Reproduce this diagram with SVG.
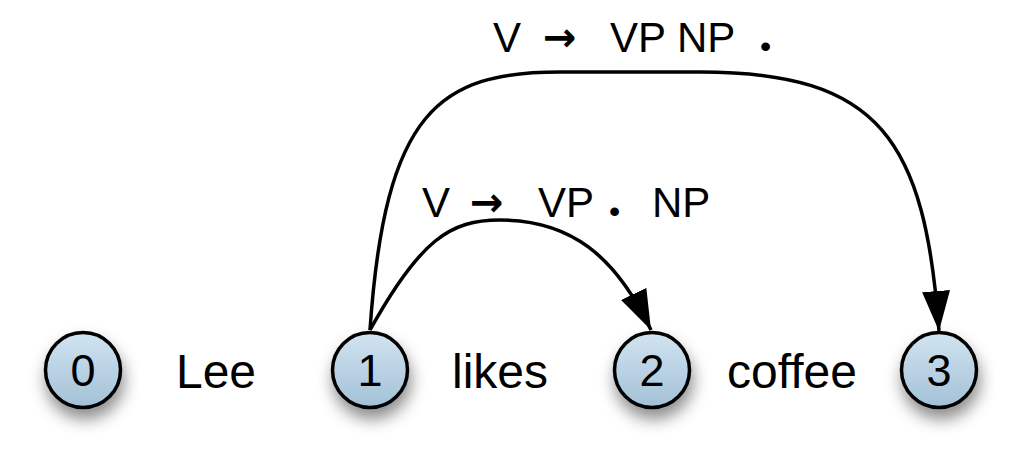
<svg xmlns="http://www.w3.org/2000/svg" width="1021" height="467" viewBox="0 0 1021 467">
<style>
.node circle{fill:url(#g);stroke:#000;stroke-width:3.5;filter:url(#sh)}
.num{font-family:"Liberation Sans",Arial,sans-serif;font-size:45px;text-anchor:middle;fill:#000}
.word{font-family:"Liberation Sans",Arial,sans-serif;font-size:48px;text-anchor:middle;fill:#000}
.lbl{font-family:"Liberation Sans",Arial,sans-serif;font-size:42px;fill:#000}
.arr{font-family:"DejaVu Sans",sans-serif;font-size:40px;font-weight:bold}
.dot{font-size:32px}
.edge{fill:none;stroke:#000;stroke-width:3.5;marker-end:url(#ah)}
</style>
<defs>
<linearGradient id="g" x1="0" y1="0" x2="0" y2="1">
<stop offset="0" stop-color="#d2e4f1"/>
<stop offset="1" stop-color="#a2c1d6"/>
</linearGradient>
<filter id="sh" x="-60%" y="-50%" width="220%" height="240%">
<feDropShadow dx="2" dy="10" stdDeviation="8" flood-color="#000" flood-opacity="0.45"/>
</filter>
<marker id="ah" markerUnits="userSpaceOnUse" markerWidth="44" markerHeight="30" refX="40" refY="14" orient="auto">
<path d="M0,0 L40,14 L0,28 Z" fill="#000"/>
</marker>
</defs>
<rect width="1021" height="467" fill="#fff"/>
<g id="connectors">
<path class="edge" d="M370,330 C420,240 450,220 500,220 C570,220 615,255 651,330"/>
<path class="edge" d="M370,330 C385,110 440,72 560,72 L700,72 C880,72 925,140 939,331"/>
</g>
<g id="node0" class="node"><circle cx="83" cy="370" r="37.5"/><text class="num" x="83" y="386">0</text></g>
<g id="node1" class="node"><circle cx="370" cy="370" r="37.5"/><text class="num" x="370" y="386">1</text></g>
<g id="node2" class="node"><circle cx="652" cy="370" r="37.5"/><text class="num" x="652" y="386">2</text></g>
<g id="node3" class="node"><circle cx="939" cy="370" r="37.5"/><text class="num" x="939" y="386">3</text></g>
<g id="words">
<text class="word" x="216" y="388">Lee</text>
<text class="word" x="500" y="388">likes</text>
<text class="word" x="792" y="388">coffee</text>
</g>
<g id="labels">
<text class="lbl" y="217"><tspan x="422">V</tspan><tspan class="arr" x="470" y="216">→</tspan><tspan x="538" y="217">VP</tspan><tspan class="dot" x="609" y="222">•</tspan><tspan x="652" y="217">NP</tspan></text>
<text class="lbl" y="52"><tspan x="493">V</tspan><tspan class="arr" x="543" y="51">→</tspan><tspan x="610" y="52">VP</tspan><tspan x="677" y="52">NP</tspan><tspan class="dot" x="760" y="57">•</tspan></text>
</g>
</svg>
